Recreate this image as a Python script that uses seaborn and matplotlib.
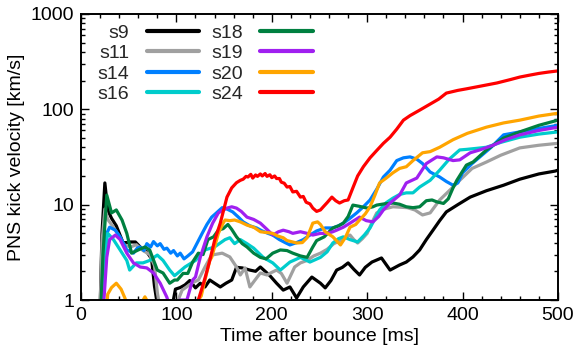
import numpy as np
import pandas as pd
import matplotlib
matplotlib.use("Agg")
import matplotlib.pyplot as plt
import matplotlib.ticker as mticker
import seaborn as sns

# ---------------- data ----------------
models = ["s9", "s11", "s14", "s16", "s18", "s19", "s20", "s24"]
colors = ["#000000", "#a0a0a0", "#0080ff", "#00cccc", "#008040", "#a020f0", "#ffa500", "#ff0000"]

t_s9 = [18, 20, 22, 25, 28, 32, 37, 44, 48, 51, 57, 62, 65, 69, 74, 77, 80, 85, 90, 95, 99, 104, 109, 114, 120,
        125, 130, 135, 140, 146, 152, 158, 163, 169, 177, 183, 188, 193, 198, 205, 212, 219, 226, 233, 242, 251,
        256, 262, 268, 274, 280, 286, 292, 298, 305, 315, 324, 334, 341, 348, 355, 362, 369, 376, 383, 395, 408,
        425, 443, 460, 480, 497, 500]
v_s9 = [0.5, 0.8, 5.0, 16.9, 8.8, 7.2, 6.0, 4.0, 4.0, 4.06, 4.06, 3.6, 3.35, 3.2, 2.7, 1.4, 0.9, 0.5, 0.5, 0.8,
        1.3, 1.35, 1.44, 1.6, 1.34, 1.5, 1.37, 1.62, 1.5, 1.37, 1.5, 1.62, 2.2, 2.17, 2.06, 2.0, 2.22, 2.0, 1.8,
        1.5, 1.27, 1.37, 1.05, 1.37, 1.74, 1.5, 1.34, 1.6, 2.06, 2.2, 2.45, 2.1, 1.83, 2.2, 2.5, 2.76, 2.06, 2.33,
        2.5, 2.83, 3.35, 4.3, 5.4, 6.8, 8.4, 10.0, 12.0, 14.0, 16.0, 18.5, 21.0, 22.5, 23.0]

t_s11 = [18, 20, 22, 25, 28, 33, 38, 45, 52, 58, 65, 72, 77, 80, 85, 90, 95, 100, 106, 116, 123, 130, 137, 148,
         156, 163, 167, 172, 177, 182, 188, 195, 200, 205, 210, 216, 224, 230, 237, 244, 251, 258, 265, 272, 278,
         282, 286, 290, 295, 300, 305, 310, 318, 327, 335, 342, 350, 358, 366, 376, 390, 397, 410, 425, 440, 460,
         480, 500]
v_s11 = [0.5, 0.8, 4.0, 9.0, 7.0, 6.0, 5.0, 3.8, 3.6, 3.8, 3.3, 3.0, 2.3, 1.2, 0.6, 0.5, 0.6, 0.9, 1.27, 1.5,
         1.62, 2.22, 2.96, 3.1, 2.83, 2.22, 1.83, 2.17, 1.37, 1.6, 1.92, 1.83, 1.95, 2.06, 1.9, 1.5, 2.22, 2.45,
         2.6, 2.9, 3.1, 3.4, 3.9, 4.2, 4.6, 4.8, 4.3, 3.96, 4.4, 5.0, 6.5, 8.2, 9.0, 9.5, 9.4, 9.3, 8.8, 7.8, 8.2,
         11.2, 15.3, 18.0, 24.0, 28.0, 33.0, 39.4, 42.0, 44.0]

t_s14 = [20, 23, 27, 30, 36, 41, 48, 55, 59, 62, 66, 69, 73, 76, 80, 83, 87, 90, 94, 97, 101, 104, 108, 112, 117,
         122, 127, 132, 137, 142, 148, 153, 159, 165, 170, 177, 184, 190, 196, 201, 208, 214, 219, 226, 233, 240,
         247, 256, 264, 270, 275, 282, 289, 296, 303, 310, 317, 324, 331, 338, 345, 352, 358, 366, 376, 383, 390,
         395, 400, 410, 418, 430, 443, 460, 480, 500]
v_s14 = [0.5, 2.06, 5.0, 5.8, 5.4, 4.6, 3.35, 3.1, 3.5, 3.6, 3.3, 3.9, 3.6, 4.1, 3.7, 3.9, 3.4, 3.5, 3.1, 3.3,
         2.9, 3.1, 2.7, 2.9, 3.2, 4.0, 5.0, 6.2, 7.4, 8.2, 9.3, 9.0, 8.4, 7.4, 6.6, 6.0, 5.7, 5.3, 5.0, 4.8, 4.3,
         4.0, 3.78, 4.0, 4.3, 4.8, 5.3, 5.7, 5.7, 6.0, 6.4, 7.2, 8.2, 9.5, 11.2, 14.5, 19.5, 23.0, 29.0, 31.0,
         31.7, 30.0, 27.0, 22.0, 19.5, 17.5, 16.0, 16.9, 21.6, 27.0, 31.6, 40.0, 54.0, 58.0, 63.0, 68.0]

t_s16 = [22, 25, 28, 34, 41, 48, 51, 58, 65, 72, 80, 86, 93, 98, 101, 109, 120, 130, 140, 151, 156, 161, 167,
         174, 181, 191, 201, 209, 219, 230, 240, 251, 258, 264, 270, 275, 282, 290, 297, 303, 313, 320, 327, 334,
         341, 348, 355, 366, 376, 386, 397, 404, 415, 425, 440, 460, 480, 500]
v_s16 = [0.5, 3.0, 5.0, 4.3, 3.35, 2.6, 2.06, 2.45, 2.45, 2.6, 2.96, 2.6, 2.06, 1.8, 1.9, 2.22, 2.6, 3.35, 3.6,
         4.3, 4.5, 3.9, 4.3, 3.9, 3.5, 2.8, 2.45, 2.06, 2.5, 2.8, 2.5, 2.8, 3.2, 3.96, 4.4, 4.6, 4.3, 4.06, 4.8,
         5.7, 8.8, 10.5, 11.7, 12.8, 13.3, 13.3, 15.3, 18.0, 23.0, 30.0, 37.5, 38.0, 39.0, 40.0, 45.0, 51.0, 55.0,
         58.0]

t_s18 = [20, 23, 27, 32, 37, 43, 48, 53, 60, 67, 72, 80, 86, 93, 98, 101, 107, 112, 117, 123, 128, 133, 139, 144,
         149, 154, 158, 163, 169, 174, 181, 188, 194, 201, 209, 216, 222, 230, 237, 243, 247, 255, 264, 270, 275,
         280, 285, 292, 300, 306, 310, 318, 327, 334, 341, 348, 355, 362, 368, 373, 380, 385, 390, 394, 404, 411,
         425, 443, 460, 480, 500]
v_s18 = [0.5, 3.0, 12.6, 8.2, 8.8, 6.9, 5.0, 3.1, 3.35, 3.6, 3.35, 2.06, 1.92, 1.5, 1.62, 1.62, 1.9, 1.9, 2.5,
         3.1, 3.0, 4.3, 4.6, 5.4, 5.6, 6.2, 5.5, 4.6, 3.9, 3.6, 3.1, 2.8, 2.7, 3.1, 3.35, 3.3, 3.1, 2.9, 2.8, 3.6,
         4.2, 4.6, 5.7, 6.0, 6.4, 7.5, 9.9, 9.6, 9.2, 9.5, 9.9, 10.2, 10.4, 10.1, 9.5, 9.3, 9.5, 11.0, 11.2, 10.7,
         10.3, 11.5, 15.0, 18.0, 26.0, 28.0, 37.5, 50.0, 58.0, 68.0, 77.0]

t_s19 = [22, 27, 30, 36, 41, 48, 55, 62, 69, 76, 83, 90, 94, 100, 104, 111, 117, 120, 125, 132, 138, 144, 149,
         153, 158, 163, 168, 174, 181, 188, 195, 201, 207, 212, 218, 222, 230, 237, 243, 251, 258, 264, 268, 275,
         282, 292, 299, 306, 312, 317, 324, 334, 341, 352, 362, 373, 380, 390, 397, 408, 418, 432, 445, 460, 480,
         500]
v_s19 = [0.5, 2.8, 4.3, 4.8, 4.3, 3.1, 2.45, 2.22, 2.17, 1.92, 1.5, 1.07, 0.8, 0.9, 1.0, 1.0, 1.62, 1.74, 2.8,
         4.6, 6.4, 8.2, 8.8, 9.2, 9.5, 9.2, 8.5, 7.4, 7.0, 6.4, 5.5, 4.8, 5.2, 5.4, 5.2, 5.0, 5.2, 5.0, 4.8, 5.0,
         5.0, 5.2, 5.4, 5.8, 6.4, 7.4, 6.8, 6.6, 7.5, 8.8, 10.4, 12.6, 16.9, 19.0, 27.0, 31.7, 31.0, 29.0, 29.5,
         35.0, 37.5, 42.0, 48.0, 54.0, 60.0, 65.0]

t_s20 = [25, 28, 32, 37, 42, 46, 50, 60, 64, 67, 70, 75, 110, 118, 123, 126, 130, 135, 137, 144, 149, 151, 156,
         161, 167, 174, 181, 188, 195, 201, 206, 212, 216, 222, 226, 232, 237, 243, 248, 251, 256, 264, 272, 277,
         282, 288, 292, 298, 303, 308, 313, 320, 327, 334, 341, 348, 358, 366, 376, 390, 405, 425, 443, 460, 480,
         500]
v_s20 = [0.5, 1.15, 1.35, 1.5, 1.3, 1.05, 0.8, 0.8, 0.95, 1.08, 0.95, 0.5, 0.5, 0.7, 1.0, 1.1, 1.62, 2.6, 2.8,
         5.0, 6.4, 6.9, 6.8, 6.9, 6.6, 6.1, 5.8, 5.2, 5.1, 5.0, 4.7, 4.5, 4.2, 4.06, 3.96, 4.0, 4.5, 6.4, 6.6,
         6.2, 5.2, 4.6, 3.78, 4.5, 5.8, 6.2, 6.9, 8.0, 9.5, 12.5, 16.9, 19.0, 21.6, 24.0, 25.0, 29.0, 35.0, 36.0,
         40.0, 48.0, 56.0, 65.0, 72.0, 77.0, 85.0, 91.0]

t_s24 = [118, 123, 130, 135, 140, 146, 153, 158, 163, 167, 170, 173, 175, 178, 180, 183, 185, 188, 190, 193, 195,
         198, 200, 203, 205, 208, 210, 213, 216, 219, 222, 226, 230, 233, 236, 240, 243, 247, 251, 254, 258, 263,
         267, 271, 276, 280, 285, 290, 296, 303, 310, 317, 324, 331, 338, 345, 355, 365, 375, 383, 395, 404, 420,
         436, 450, 460, 470, 480, 490, 500]
v_s24 = [0.8, 1.0, 1.7, 2.6, 4.2, 6.4, 12.0, 15.0, 17.0, 18.0, 18.5, 19.8, 19.5, 20.8, 19.0, 20.5, 19.8, 21.0,
         20.0, 21.2, 19.8, 20.6, 19.2, 20.0, 18.8, 18.8, 17.2, 16.8, 15.3, 15.5, 13.6, 13.8, 12.0, 12.2, 10.6,
         10.2, 9.2, 8.5, 8.8, 9.5, 10.5, 12.0, 11.0, 10.4, 11.0, 11.2, 15.0, 20.0, 25.0, 31.0, 37.0, 44.0, 51.0,
         62.0, 77.0, 86.0, 98.0, 112.0, 128.0, 148.0, 158.0, 164.0, 176.0, 189.0, 205.0, 218.0, 228.0, 238.0,
         246.0, 253.0]

series_t = [t_s9, t_s11, t_s14, t_s16, t_s18, t_s19, t_s20, t_s24]
series_v = [v_s9, v_s11, v_s14, v_s16, v_s18, v_s19, v_s20, v_s24]

frames = []
for name, tt, vv in zip(models, series_t, series_v):
    frames.append(pd.DataFrame({"t": tt, "v": vv, "model": name}))
df = pd.concat(frames, ignore_index=True)

# ---------------- plot ----------------
sns.set_theme(style="ticks")
plt.rcParams["font.family"] = ["Liberation Sans", "DejaVu Sans"]

fig = plt.figure(figsize=(5.77, 3.56), dpi=100)
ax = fig.add_axes([0.1404, 0.1573, 0.8266, 0.8034])

sns.lineplot(data=df, x="t", y="v", hue="model", hue_order=models,
             palette=dict(zip(models, colors)), sort=False, estimator=None,
             linewidth=2.3, legend=False, ax=ax)

ax.set_yscale("log")
ax.set_xlim(0, 500)
ax.set_ylim(1, 1000)
ax.xaxis.set_major_locator(mticker.MultipleLocator(100))
ax.xaxis.set_minor_locator(mticker.MultipleLocator(20))
ax.yaxis.set_major_locator(mticker.LogLocator(base=10))
ax.yaxis.set_minor_locator(mticker.LogLocator(base=10, subs=np.arange(2, 10)))
ax.yaxis.set_major_formatter(mticker.FuncFormatter(lambda y, p: f"{y:g}"))
ax.yaxis.set_minor_formatter(mticker.NullFormatter())

for s in ax.spines.values():
    s.set_linewidth(1.4)
    s.set_color("black")
ax.tick_params(which="both", direction="in", top=True, right=True, colors="black", labelsize=14)
ax.tick_params(which="major", length=6, width=1.0, pad=5)
ax.tick_params(which="minor", length=3, width=1.0)

ax.set_xlabel("Time after bounce [ms]", fontsize=14, color="black", labelpad=3)
ax.set_ylabel("PNS kick velocity [km/s]", fontsize=14, color="black", labelpad=4)

handles = list(ax.get_lines())[:len(models)]
leg = ax.legend(handles, models, ncol=2, loc="upper left", bbox_to_anchor=(0.035, 0.964),
                frameon=False, markerfirst=False, fontsize=14, handlelength=2.7,
                handletextpad=0.9, columnspacing=0.6, labelspacing=0.14,
                borderaxespad=0, borderpad=0)
for line in leg.get_lines():
    line.set_linewidth(3.0)

fig.savefig("out.png", dpi=100)
